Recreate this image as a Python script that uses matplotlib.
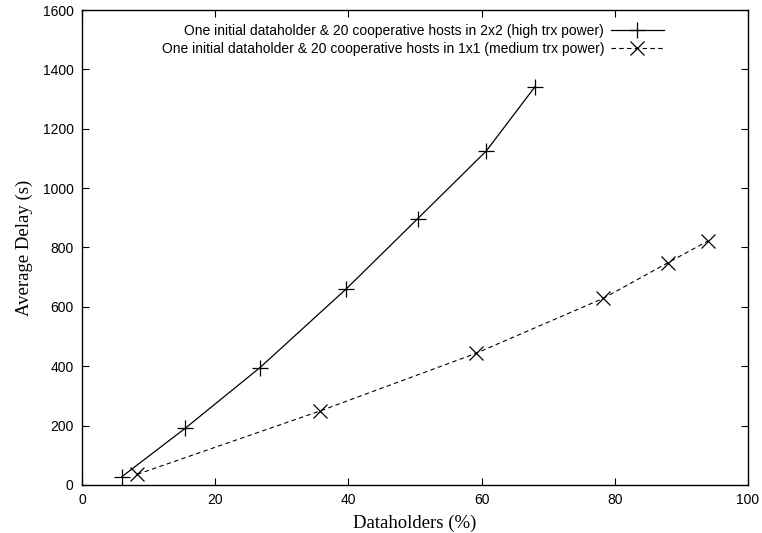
import matplotlib
matplotlib.use("Agg")
import matplotlib.pyplot as plt

# Dataholders (%) vs average delay (s)
x_high = [6.0, 15.5, 26.7, 39.7, 50.4, 60.7, 68.0]
y_high = [28, 191, 395, 661, 897, 1125, 1341]

x_medium = [8.3, 35.7, 59.1, 78.3, 88.0, 94.0]
y_medium = [36, 249, 443, 629, 749, 822]

label_high = "One initial dataholder & 20 cooperative hosts in 2x2 (high trx power)"
label_medium = "One initial dataholder & 20 cooperative hosts in 1x1 (medium trx power)"

x_ticks = [0, 20, 40, 60, 80, 100]
y_ticks = [0, 200, 400, 600, 800, 1000, 1200, 1400, 1600]

plt.rcParams["font.family"] = ["Liberation Sans", "DejaVu Sans"]

fig = plt.figure(figsize=(7.62, 5.33), dpi=100)
ax = fig.add_axes([0.1076, 0.0901, 0.874, 0.8911])

ax.plot(x_high, y_high, color="black", lw=0.9, marker="+", ms=11,
        mew=0.9, label=label_high)
ax.plot(x_medium, y_medium, color="black", lw=0.8, ls=(0, (4, 3)),
        marker="x", ms=10, mew=0.9, label=label_medium)

ax.set_xlim(0, 100)
ax.set_ylim(0, 1600)
ax.set_xticks(x_ticks)
ax.set_yticks(y_ticks)
ax.tick_params(direction="in", length=5, width=0.8, top=True, right=True,
               labelsize=10, pad=6)
for s in ax.spines.values():
    s.set_linewidth(1.0)

serif = ["Liberation Serif", "DejaVu Serif"]
ax.set_xlabel("Dataholders (%)", family=serif, fontsize=13.5, labelpad=5)
ax.set_ylabel("Average Delay (s)", family=serif, fontsize=13.5, labelpad=7)

leg = ax.legend(loc="upper right", bbox_to_anchor=(0.882, 0.982), frameon=False,
                markerfirst=False, fontsize=10, handlelength=3.8,
                handletextpad=0.5, labelspacing=0.3, borderaxespad=0)
for t in leg.get_texts():
    t.set_ha("right")
leg._legend_box.align = "right"

fig.savefig("out.png", dpi=100)
